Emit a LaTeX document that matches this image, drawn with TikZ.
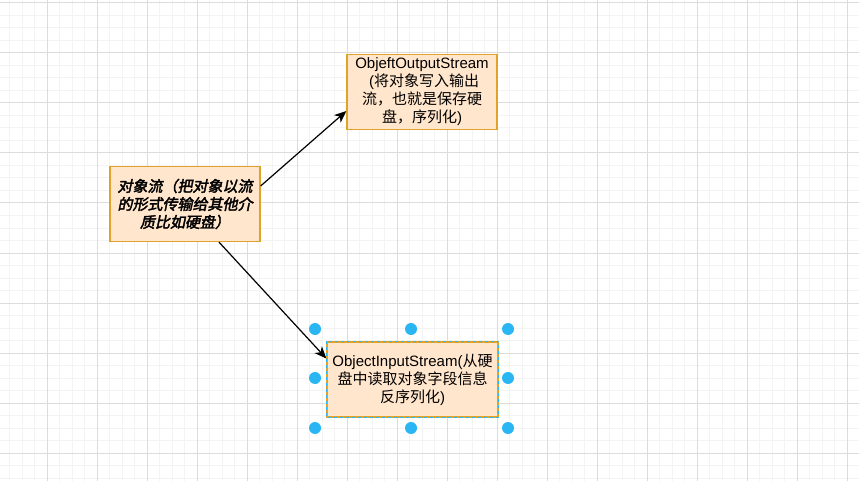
\documentclass[tikz,border=0pt]{standalone}
\usepackage{fontspec}
\setmainfont{Liberation Sans}
\newfontfamily\cjk{Noto Sans CJK SC}
\newfontfamily\cjkbi{Noto Sans CJK SC}[FakeBold=2.5,FakeSlant=0.2]
\usetikzlibrary{arrows.meta}
\definecolor{boxfill}{HTML}{FFE6CC}
\definecolor{boxline}{HTML}{DFA32A}
\definecolor{selblue}{HTML}{29B6F2}
\definecolor{gridminor}{HTML}{F3F3F3}
\definecolor{gridmajor}{HTML}{DCDCDC}
\begin{document}
\begin{tikzpicture}[x=1pt,y=-1pt,
  minorline/.style={draw=gridminor,line width=1pt},
  majorline/.style={draw=gridmajor,line width=1pt},
  obox/.style={draw=boxline,fill=boxfill,line width=1.3pt,align=center,inner sep=0pt,
    minimum height=75pt,font=\fontsize{15}{18}\selectfont},
  conn/.style={draw=black,line width=1.2pt,-{Stealth[length=12pt,width=10pt,inset=3.5pt]}},
  handle/.style={circle,fill=selblue,minimum size=12pt,inner sep=0pt}]
\useasboundingbox (0,0) rectangle (859,481);
\fill[white] (0,0) rectangle (859,481);
\foreach \i in {0,...,67} \draw[minorline] ({9.5+12.5*\i},0) -- ++(0,481);
\foreach \i in {0,...,38} \draw[minorline] (0,{3+12.5*\i}) -- ++(859,0);
\foreach \i in {0,...,16} \draw[majorline] ({47+50*\i},0) -- ++(0,481);
\foreach \i in {0,...,9} \draw[majorline] (0,{3+50*\i}) -- ++(859,0);

\node[obox,minimum width=150pt,font=\cjkbi\fontsize{15}{18}\selectfont] (L) at (185,204)
  {对象流（把对象以流\\的形式传输给其他介\\质比如硬盘）};
\node[obox,minimum width=150pt] (T) at (422,92)
  {ObjeftOutputStream\\\hspace*{4pt}({\cjk 将对象写入输出}\\{\cjk 流，也就是保存硬}\\{\cjk 盘，序列化})};
\node[obox,minimum width=171pt] (B) at (412.5,379.5)
  {ObjectInputStream({\cjk 从硬}\\{\cjk 盘中读取对象字段信息}\\{\cjk 反序列化})};
\draw[selblue,line width=1pt,dash pattern=on 3pt off 3pt] (B.north west) rectangle (B.south east);

\draw[conn] ([yshift=18pt]L.east) -- ([yshift=-19pt]T.west);
\draw[conn] ([xshift=34pt]L.south) -- ([yshift=21pt]B.west);

\node[handle] (h1) at (315,329) {};
\node[handle] (h2) at (411,329) {};
\node[handle] (h3) at (508,329) {};
\node[handle] (h4) at (315,378) {};
\node[handle] (h5) at (508,378) {};
\node[handle] (h6) at (315,428) {};
\node[handle] (h7) at (411,428) {};
\node[handle] (h8) at (508,428) {};
\end{tikzpicture}
\end{document}
